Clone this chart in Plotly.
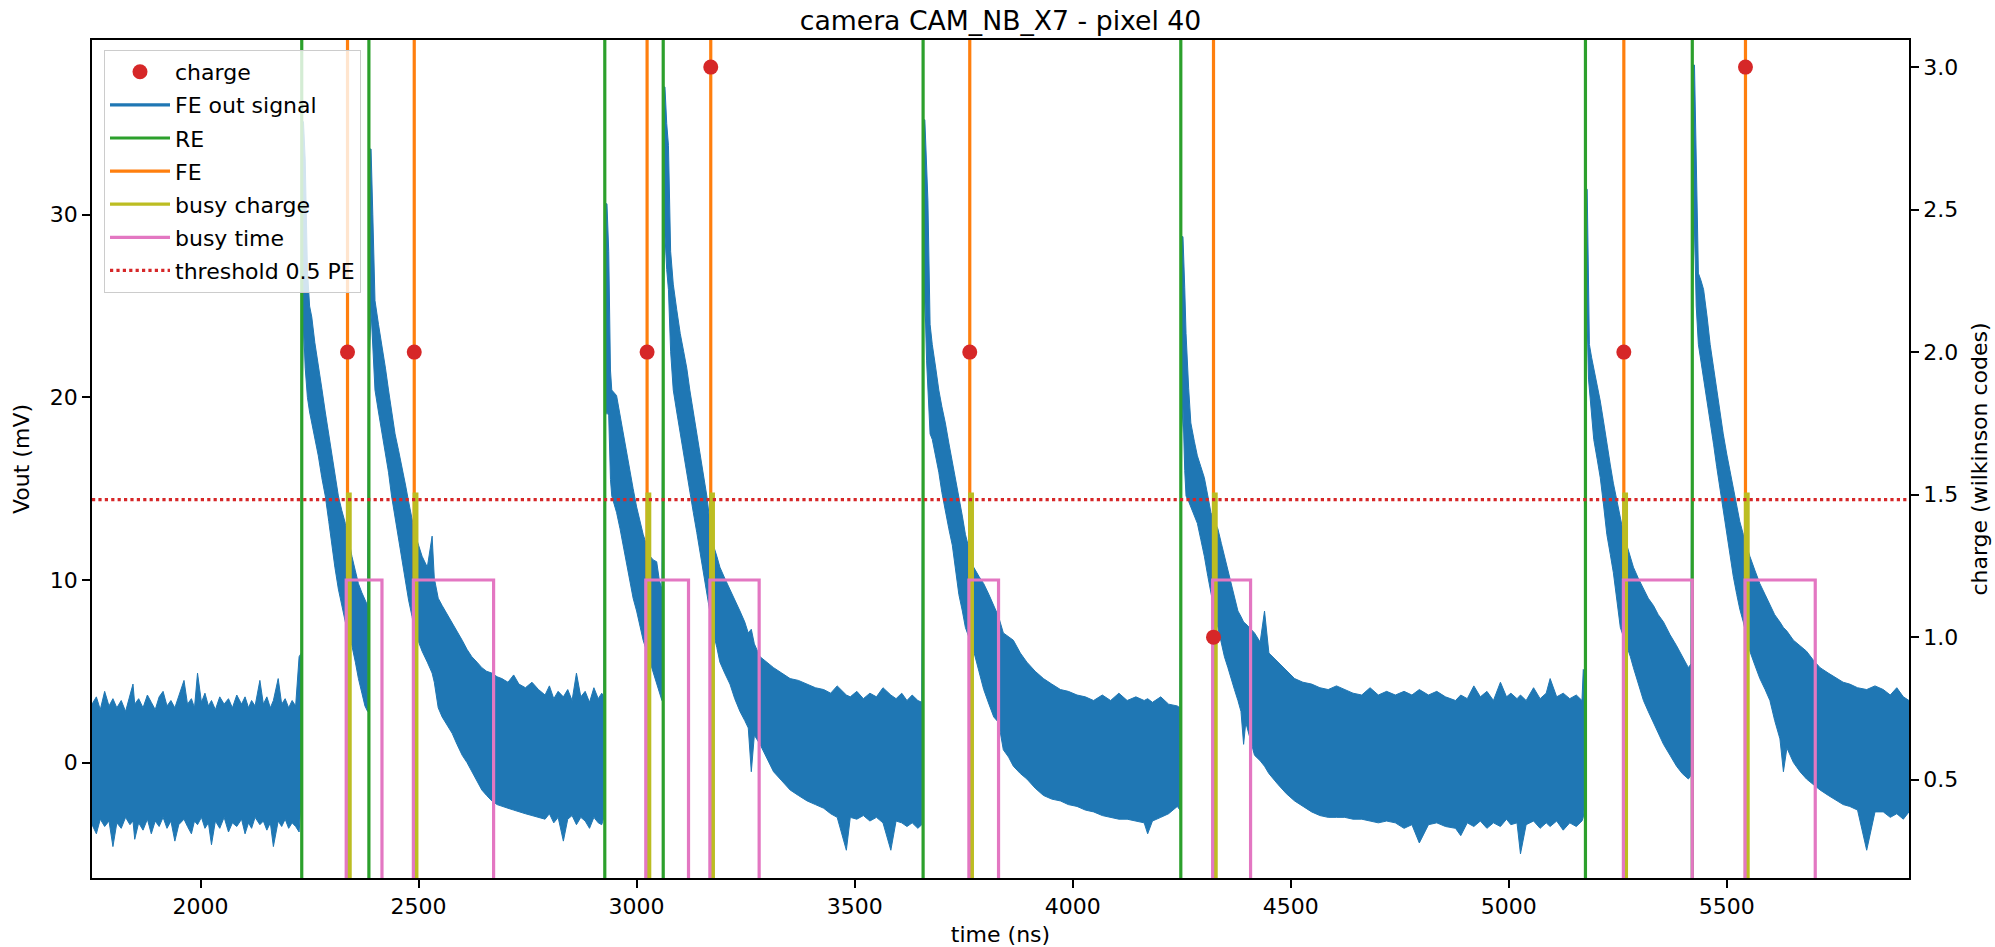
import plotly.graph_objects as go

TITLE = "camera CAM_NB_X7 - pixel 40"
X_LABEL = "time (ns)"
Y_LABEL = "Vout (mV)"
Y2_LABEL = "charge (wilkinson codes)"

SIG_T = [
    1751, 1761, 1770, 1780, 1790, 1799, 1808, 1818, 1828, 1838, 1845, 1849, 1858, 1868, 1878, 1887,
    1896, 1905, 1914, 1923, 1932, 1941, 1950, 1962, 1970, 1979, 1986, 1993, 2002, 2010, 2018, 2025,
    2034, 2044, 2054, 2064, 2073, 2083, 2094, 2102, 2110, 2117, 2125, 2136, 2144, 2152, 2160, 2167,
    2178, 2186, 2194, 2202, 2210, 2218, 2226, 2231,
    2233, 2236, 2240, 2245, 2250, 2255, 2262, 2270, 2278, 2286, 2294, 2301, 2308, 2316, 2324, 2332,
    2340, 2347, 2355, 2362, 2370, 2377, 2383,
    2387, 2391, 2395, 2400, 2408, 2416, 2424, 2431, 2438, 2446, 2454, 2462, 2470, 2477, 2485, 2492,
    2500, 2508, 2520, 2531, 2536, 2545, 2554, 2566, 2577, 2588, 2600, 2611, 2622, 2634, 2645, 2656,
    2668, 2680, 2691, 2705, 2718, 2730, 2745, 2760, 2775, 2790, 2800, 2810, 2820, 2832, 2842, 2852,
    2862, 2872, 2882, 2892, 2902, 2912, 2920, 2925,
    2928, 2932, 2936, 2940, 2943, 2954, 2962, 2969, 2977, 2985, 2992, 3000, 3008, 3015, 3023, 3031,
    3038, 3046, 3052, 3058,
    3062, 3065, 3069, 3073, 3078, 3084, 3092, 3100, 3108, 3115, 3122, 3130, 3138, 3145, 3153, 3161,
    3168, 3176, 3184, 3191, 3202, 3214, 3225, 3237, 3248, 3256, 3263, 3270, 3283, 3298, 3314, 3333,
    3352, 3371, 3391, 3410, 3429, 3445, 3460, 3481, 3490, 3505, 3520, 3535, 3550, 3565, 3583, 3595,
    3608, 3620, 3632, 3645, 3654,
    3658, 3661, 3665, 3668, 3673, 3678, 3686, 3693, 3700, 3708, 3716, 3724, 3731, 3739, 3747, 3754,
    3763, 3773, 3785, 3796, 3808, 3819, 3830, 3841, 3853, 3864, 3880, 3895, 3914, 3933, 3952, 3972,
    3990, 4010, 4029, 4048, 4068, 4087, 4106, 4125, 4145, 4164, 4172, 4183, 4202, 4220, 4240, 4246,
    4250, 4253, 4257, 4260, 4266, 4271, 4279, 4286, 4294, 4302, 4310, 4317, 4325, 4333, 4341, 4348,
    4356, 4363, 4371, 4379, 4386, 4392, 4397, 4417, 4430, 4440, 4450, 4471, 4490, 4509, 4528, 4548,
    4567, 4586, 4605, 4624, 4643, 4663, 4682, 4701, 4720, 4740, 4760, 4778, 4795, 4816, 4835, 4855,
    4878, 4890, 4905, 4920, 4935, 4950, 4965, 4981, 4995, 5005, 5019, 5027, 5040, 5057, 5072, 5086,
    5095, 5110, 5125, 5140, 5155, 5168, 5171, 5175,
    5177, 5180, 5183, 5185, 5190, 5195, 5203, 5210, 5218, 5225, 5233, 5240, 5248, 5256, 5263, 5271,
    5279, 5286, 5297, 5309, 5320, 5332, 5343, 5355, 5370, 5385, 5398, 5412, 5418,
    5422, 5426, 5430, 5435, 5441, 5447, 5455, 5462, 5470, 5477, 5485, 5492, 5500, 5508, 5515, 5523,
    5530, 5538, 5545, 5553, 5565, 5576, 5588, 5599, 5610, 5622, 5630, 5638, 5653, 5668, 5683, 5699,
    5714, 5733, 5752, 5767, 5782, 5800, 5821, 5840, 5859, 5875, 5890, 5905, 5918,
]
SIG_HI = [
    3.2, 3.6, 2.9, 3.9, 3.1, 3.5, 3.0, 3.4, 2.8, 3.6, 4.3, 3.2, 3.5, 3.0, 3.7, 3.3,
    2.9, 3.6, 3.9, 3.1, 3.4, 3.0, 3.7, 4.5, 3.2, 3.5, 3.0, 4.9, 3.3, 3.8, 3.1, 3.4,
    2.9, 3.6, 3.2, 3.5, 3.0, 3.7, 3.2, 3.6, 3.0, 3.4, 3.1, 4.5, 3.2, 3.6, 3.0, 3.4,
    4.6, 3.2, 3.5, 3.0, 3.4, 3.1, 5.8, 6.0,
    34.0, 35.1, 33.0, 27.0, 25.0, 24.4, 23.0, 21.6, 20.5, 19.2, 18.0, 16.8, 15.8, 14.6, 13.8, 13.1,
    12.2, 11.3, 10.5, 9.8, 9.3, 8.9, 8.6,
    33.6, 33.6, 30.0, 25.3, 24.0, 22.9, 21.6, 20.4, 19.2, 18.0, 17.1, 16.2, 15.2, 14.3, 13.4, 12.5,
    11.9, 11.3, 10.7, 12.4, 10.1, 9.0, 8.6, 8.1, 7.7, 7.2, 6.7, 6.2, 5.8, 5.5, 5.2, 5.0,
    4.9, 4.7, 4.6, 4.4, 4.8, 4.3, 4.1, 4.4, 4.0, 3.7, 4.2, 3.5, 3.9, 3.6, 4.0, 3.4,
    4.9, 3.6, 3.9, 3.3, 4.1, 3.5, 3.8, 3.6,
    30.6, 30.6, 28.0, 21.5, 20.4, 20.1, 19.0, 18.0, 17.0, 15.9, 15.0, 14.0, 13.2, 12.5, 11.9, 11.3,
    11.1, 11.0, 10.0, 9.5,
    37.0, 37.0, 35.0, 33.8, 28.0, 26.2, 24.8, 23.5, 22.5, 21.6, 20.4, 19.2, 18.0, 16.8, 15.7, 14.6,
    13.2, 11.9, 11.3, 10.7, 10.1, 9.5, 8.9, 8.3, 7.7, 7.1, 7.3, 6.5, 5.8, 5.5, 5.2, 4.9,
    4.6, 4.5, 4.3, 4.1, 4.0, 3.8, 4.2, 3.7, 3.6, 3.9, 3.5, 3.8, 3.6, 4.1, 3.7, 3.5,
    3.8, 3.4, 3.7, 3.4, 3.3,
    35.2, 35.2, 32.0, 30.8, 24.0, 22.9, 21.6, 20.4, 19.5, 18.6, 17.5, 16.5, 15.5, 14.6, 13.5, 12.5,
    11.6, 10.7, 10.2, 9.8, 9.2, 8.6, 8.0, 7.1, 6.9, 6.7, 6.0, 5.5, 5.0, 4.6, 4.3, 4.0,
    3.9, 3.7, 3.6, 3.4, 3.7, 3.4, 3.8, 3.4, 3.6, 3.4, 3.5, 3.3, 3.6, 3.2, 3.1, 3.0,
    28.8, 28.8, 26.0, 23.5, 20.5, 18.6, 17.6, 16.8, 16.2, 15.6, 14.6, 13.7, 13.2, 12.8, 12.0, 11.3,
    10.5, 9.8, 9.0, 8.3, 8.0, 7.7, 7.6, 7.1, 6.6, 8.3, 6.0, 5.5, 5.0, 4.6, 4.4, 4.3,
    4.1, 4.0, 4.2, 4.0, 3.8, 3.7, 4.1, 3.7, 3.9, 3.7, 3.9, 3.7, 4.0, 3.7, 3.9, 3.6,
    3.4, 3.7, 3.5, 4.2, 3.6, 3.9, 3.4, 4.4, 3.6, 3.8, 3.5, 3.7, 3.4, 4.1, 3.5, 3.8,
    4.6, 3.6, 3.8, 3.5, 3.7, 3.4, 5.1, 5.0,
    31.4, 31.4, 27.0, 22.9, 22.2, 21.6, 20.7, 19.8, 18.6, 17.4, 16.3, 15.3, 14.3, 13.4, 12.6, 11.9,
    11.3, 10.7, 10.1, 9.5, 9.0, 8.6, 8.1, 7.7, 7.0, 6.4, 5.8, 5.2, 5.4,
    38.2, 38.2, 33.0, 26.8, 26.4, 25.9, 24.4, 22.9, 21.6, 20.4, 19.2, 18.0, 16.9, 15.9, 14.9, 14.0,
    13.2, 12.5, 11.9, 11.3, 10.5, 9.8, 9.2, 8.6, 8.1, 7.7, 7.4, 7.2, 6.7, 6.4, 6.1, 5.6,
    5.2, 4.9, 4.6, 4.4, 4.3, 4.1, 4.0, 4.2, 4.0, 3.7, 4.1, 3.6, 3.4,
]
SIG_LO = [
    -3.4, -3.9, -3.1, -3.5, -3.2, -4.6, -3.3, -3.6, -3.0, -3.4, -3.2, -4.2, -3.3, -3.7, -3.1, -3.9,
    -3.2, -3.5, -3.0, -3.6, -3.2, -4.3, -3.4, -3.1, -3.5, -3.9, -3.2, -3.4, -3.0, -3.6, -3.3, -4.5,
    -3.2, -3.6, -3.0, -3.8, -3.3, -3.5, -3.1, -3.9, -3.3, -3.6, -3.0, -3.4, -3.2, -3.7, -3.3, -4.6,
    -3.2, -3.5, -3.1, -3.6, -3.3, -3.5, -3.8, -2.0,
    20.0, 24.0, 21.6, 20.0, 19.2, 18.6, 17.7, 16.8, 15.6, 14.6, 13.2, 11.9, 10.7, 9.5, 8.5, 7.7,
    7.0, 6.4, 5.5, 4.6, 3.8, 3.1, 2.8,
    22.0, 24.7, 23.0, 20.4, 19.2, 18.0, 17.0, 15.9, 14.6, 13.4, 12.2, 11.0, 9.9, 8.9, 8.0, 7.1,
    6.6, 6.1, 5.5, 4.9, 4.4, 3.0, 2.5, 2.0, 1.6, 1.0, 0.4, 0.0, -0.5, -1.0, -1.5, -1.8,
    -2.1, -2.3, -2.4, -2.5, -2.6, -2.7, -2.8, -2.9, -3.0, -3.1, -2.8, -3.3, -3.0, -4.3, -3.1, -2.9,
    -3.4, -3.0, -3.2, -3.6, -3.0, -3.3, -3.4, -3.0,
    19.0, 19.2, 19.0, 15.5, 14.6, 13.7, 12.8, 11.9, 10.8, 9.8, 9.0, 8.3, 7.5, 6.7, 6.1, 5.5,
    4.9, 4.3, 3.8, 3.4,
    26.0, 28.9, 27.0, 25.9, 22.5, 20.4, 19.2, 18.0, 17.0, 15.9, 14.8, 13.7, 12.6, 11.6, 10.4, 9.2,
    8.1, 7.1, 6.3, 5.5, 4.9, 4.3, 3.5, 2.8, 2.3, 1.9, -0.5, 1.5, 1.0, 0.3, -0.5, -1.0,
    -1.5, -1.8, -2.1, -2.3, -2.5, -2.8, -3.0, -4.8, -3.0, -3.1, -2.9, -3.2, -3.0, -3.3, -4.8, -3.2,
    -3.3, -3.5, -3.3, -3.6, -3.4,
    24.0, 25.6, 22.0, 20.4, 18.0, 17.7, 16.8, 15.9, 14.8, 13.7, 12.8, 11.9, 10.5, 9.2, 8.3, 7.4,
    6.8, 6.1, 5.0, 4.0, 3.2, 2.5, 2.2, 0.7, 0.3, -0.2, -0.6, -0.9, -1.4, -1.8, -2.0, -2.1,
    -2.3, -2.4, -2.6, -2.7, -2.9, -3.0, -3.1, -3.1, -3.2, -3.3, -3.9, -3.2, -3.0, -2.8, -2.4, -2.6,
    18.0, 19.5, 16.0, 14.6, 14.3, 14.0, 13.5, 13.1, 12.2, 11.3, 10.2, 9.2, 8.3, 7.4, 6.6, 5.8,
    5.2, 4.6, 4.0, 3.4, 2.8, 1.0, 2.2, 0.4, 0.1, -0.2, -0.6, -1.2, -1.7, -2.1, -2.4, -2.7,
    -2.9, -3.0, -3.0, -3.0, -3.1, -3.1, -3.2, -3.3, -3.2, -3.3, -3.6, -3.4, -4.4, -3.4, -3.3, -3.5,
    -3.6, -4.0, -3.3, -3.5, -3.2, -3.6, -3.3, -3.5, -3.1, -3.4, -3.3, -5.0, -3.4, -3.2, -3.6, -3.3,
    -3.5, -3.2, -3.7, -3.3, -3.5, -3.2, -3.0, -2.0,
    22.0, 24.1, 21.0, 20.4, 19.0, 17.7, 16.6, 15.6, 14.0, 12.5, 11.4, 10.4, 8.9, 7.4, 6.9, 6.4,
    5.8, 5.2, 4.3, 3.4, 2.8, 2.2, 1.6, 1.0, 0.4, -0.2, -0.6, -0.9, -0.7,
    26.0, 29.5, 25.0, 22.9, 22.0, 21.0, 19.8, 18.6, 17.4, 16.2, 14.9, 13.7, 12.5, 11.3, 10.2, 9.2,
    8.4, 7.7, 6.9, 6.1, 5.3, 4.6, 4.0, 3.4, 2.3, 1.3, -0.5, 0.8, 0.0, -0.5, -0.9, -1.2,
    -1.5, -1.8, -2.1, -2.3, -2.4, -2.6, -4.8, -2.7, -2.7, -3.0, -2.8, -3.1, -2.7,
]

# discriminator events (ns) and charge (wilkinson codes)
RE_TIMES = [2232, 2386, 2927, 3061, 3657, 4248, 5176, 5421]
FE_TIMES = [2337, 2490, 3024, 3170, 3764, 4323, 5264, 5543]
CHARGES = [2, 2, 2, 3, 2, 1, 2, 3]

BUSY_CHARGE_START = [2337, 2490, 3024, 3170, 3764, 4323, 5264, 5543]
BUSY_CHARGE_END = [2343, 2496, 3030, 3176, 3770, 4329, 5270, 5549]
BUSY_CHARGE_HIGH = 14.7

BUSY_TIME_START = [2334, 2488, 3021, 3168, 3762, 4321, 5263, 5542]
BUSY_TIME_END = [2416, 2672, 3119, 3281, 3830, 4408, 5421, 5703]
BUSY_TIME_HIGH = 10.0
BUSY_LOW = -10.0

THRESHOLD = 14.4

X_RANGE = [1751, 5918]
Y_RANGE = [-6.32, 39.57]
Y2_RANGE = [0.155, 3.095]
X_TICKS = [2000, 2500, 3000, 3500, 4000, 4500, 5000, 5500]
Y_TICKS = [0, 10, 20, 30]
Y2_TICKS = [0.5, 1.0, 1.5, 2.0, 2.5, 3.0]

BLUE = "#1f77b4"
ORANGE = "#ff7f0e"
GREEN = "#2ca02c"
RED = "#d62728"
PINK = "#e377c2"
OLIVE = "#bcbd22"
FONT = "DejaVu Sans"
FS = 22
LW = 3.2


def vlines(times):
    xs, ys = [], []
    for t in times:
        xs += [t, t, None]
        ys += [Y_RANGE[0], Y_RANGE[1], None]
    return xs, ys


def steps(starts, ends, high, low):
    xs, ys = [], []
    for s, e in zip(starts, ends):
        xs += [s, s, e, e, None]
        ys += [low, high, high, low, None]
    return xs, ys


fig = go.Figure()

# signal band
fig.add_trace(go.Scatter(x=SIG_T, y=SIG_LO, mode="lines", line=dict(color=BLUE, width=1),
                         showlegend=False, hoverinfo="skip"))
fig.add_trace(go.Scatter(x=SIG_T, y=SIG_HI, mode="lines", line=dict(color=BLUE, width=1),
                         fill="tonexty", fillcolor=BLUE, showlegend=False, hoverinfo="skip"))

fig.add_trace(go.Scatter(x=FE_TIMES, y=CHARGES, yaxis="y2", mode="markers", name="charge",
                         marker=dict(color=RED, size=15), legendrank=1, legendgroup="a"))

fig.add_trace(go.Scatter(x=[None], y=[None], mode="lines", name="FE out signal",
                         line=dict(color=BLUE, width=LW), legendrank=2, legendgroup="b"))

x, y = vlines(RE_TIMES)
fig.add_trace(go.Scatter(x=x, y=y, mode="lines", name="RE", line=dict(color=GREEN, width=LW),
                         legendrank=3, legendgroup="c"))
x, y = vlines(FE_TIMES)
fig.add_trace(go.Scatter(x=x, y=y, mode="lines", name="FE", line=dict(color=ORANGE, width=LW),
                         legendrank=4, legendgroup="d"))
x, y = steps(BUSY_CHARGE_START, BUSY_CHARGE_END, BUSY_CHARGE_HIGH, BUSY_LOW)
fig.add_trace(go.Scatter(x=x, y=y, mode="lines", name="busy charge", line=dict(color=OLIVE, width=LW),
                         legendrank=5, legendgroup="e"))
x, y = steps(BUSY_TIME_START, BUSY_TIME_END, BUSY_TIME_HIGH, BUSY_LOW)
fig.add_trace(go.Scatter(x=x, y=y, mode="lines", name="busy time", line=dict(color=PINK, width=LW),
                         legendrank=6, legendgroup="f"))
fig.add_trace(go.Scatter(x=X_RANGE, y=[THRESHOLD, THRESHOLD], mode="lines", name="threshold 0.5 PE",
                         line=dict(color=RED, width=LW, dash="dot"), legendrank=7, legendgroup="g"))

axis_common = dict(showline=True, linecolor="black", linewidth=1.8, ticks="outside", ticklen=8,
                   tickwidth=1.8, tickcolor="black", showgrid=False, zeroline=False,
                   tickfont=dict(family=FONT, size=FS, color="black"))

fig.update_layout(
    width=1995, height=947,
    margin=dict(l=92, r=86, t=40, b=69, autoexpand=False),
    paper_bgcolor="white", plot_bgcolor="white",
    font=dict(family=FONT, size=FS, color="black"),
    title=dict(text=TITLE, x=(92 + 1909) / 2 / 1995, xanchor="center", y=1 - 21 / 947, yanchor="middle",
               font=dict(family=FONT, size=26.7, color="black")),
    xaxis=dict(range=X_RANGE, tickvals=X_TICKS, mirror=True,
               title=dict(text=X_LABEL, font=dict(family=FONT, size=FS, color="black"), standoff=8),
               **axis_common),
    yaxis=dict(range=Y_RANGE, tickvals=Y_TICKS,
               title=dict(text=Y_LABEL, font=dict(family=FONT, size=FS, color="black"), standoff=14),
               **axis_common),
    yaxis2=dict(range=Y2_RANGE, tickvals=Y2_TICKS, tickformat=".1f", overlaying="y", side="right",
                title=dict(text=Y2_LABEL, font=dict(family=FONT, size=FS, color="black"), standoff=14),
                **axis_common),
    legend=dict(x=(104 - 92) / 1817, y=1 - (50 - 40) / 838, xanchor="left", yanchor="top",
                bgcolor="rgba(255,255,255,0.8)", bordercolor="#cccccc", borderwidth=1,
                font=dict(family=FONT, size=FS, color="black"), tracegroupgap=1.5,
                traceorder="grouped", itemwidth=60),
    showlegend=True,
)

fig.write_html("out.html")
